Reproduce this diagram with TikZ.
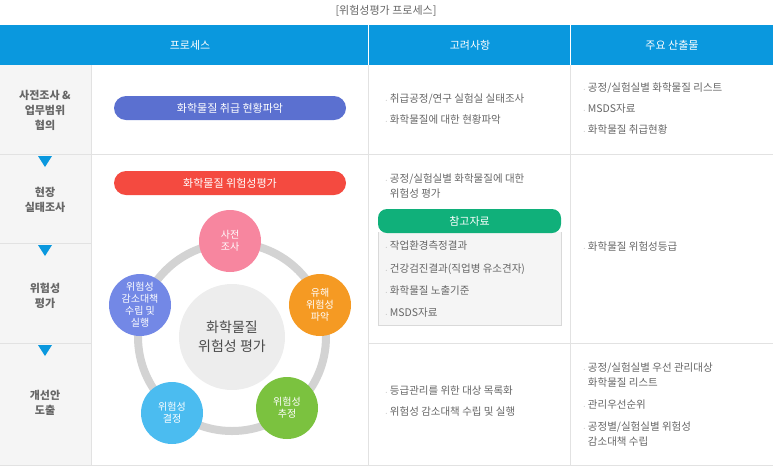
\documentclass[tikz,border=0pt]{standalone}
\usepackage{fontspec}
\setmainfont{Noto Sans CJK KR}
\usetikzlibrary{positioning}
\definecolor{hdblue}{HTML}{0A98DE}
\definecolor{txtgrey}{HTML}{666666}
\definecolor{linegrey}{HTML}{E2E2E2}
\definecolor{leftgrey}{HTML}{F5F5F5}
\definecolor{pillblue}{HTML}{5B70D0}
\definecolor{pillred}{HTML}{F44A40}
\definecolor{pillgreen}{HTML}{10B07A}
\definecolor{cpink}{HTML}{F7869F}
\definecolor{corange}{HTML}{F59A23}
\definecolor{cgreen}{HTML}{7BC23F}
\definecolor{csky}{HTML}{4BBCF0}
\definecolor{cviolet}{HTML}{7388E6}
\tikzset{
  pill/.style={rounded corners=12pt, minimum width=232pt, minimum height=24pt, text=white, font=\fontsize{11}{13}\selectfont},
  step circle/.style={circle, minimum size=62pt, inner sep=0pt, text=white, align=center, font=\fontsize{10}{12}\selectfont},
  lefttext/.style={align=center, text=txtgrey, font=\bfseries\fontsize{11}{15}\selectfont},
  bullet/.style={anchor=west, text=txtgrey, inner sep=0pt, font=\fontsize{10.5}{15}\selectfont, align=left},
}
\newcommand{\bul}{{\fontsize{7}{7}\selectfont$\cdot$}~}
\begin{document}
\begin{tikzpicture}[x=1pt, y=-1pt]
	\useasboundingbox (0,0) rectangle (773,467);
	
	% header
	\node (title) at (386,11) {\fontsize{11}{13}\selectfont\color{txtgrey}[위험성평가 프로세스]};
	\fill[hdblue] (0,25) rectangle (773,65);
	\fill[leftgrey] (0,65) rectangle (91,465);
	\node (hproc) at (190,45) [text=white, font=\fontsize{11}{13}\selectfont] {프로세스};
	\node (hcons) at (470,45) [text=white, font=\fontsize{11}{13}\selectfont] {고려사항};
	\node (hout) at (672,45) [text=white, font=\fontsize{11}{13}\selectfont] {주요 산출물};
	
	% grid
	\begin{scope}[draw=linegrey, line width=.8pt]
	\draw[white] (368,25) -- (368,65);
	\draw[white] (570,25) -- (570,65);
	\draw (91,65) -- (91,465);
	\draw (368,65) -- (368,465);
	\draw (570,65) -- (570,465);
	\draw (0,154) -- (773,154);
	\draw (0,243) -- (91,243);
	\draw (0,343) -- (91,343);
	\draw (368,343) -- (773,343);
	\draw (0,465) -- (773,465);
	\end{scope}
	
	% left column
	\node (s1) at (45,110) [lefttext] {사전조사 \&\\업무범위\\협의};
	\node (s2) at (45,200) [lefttext] {현장\\실태조사};
	\node (s3) at (45,296) [lefttext] {위험성\\평가};
	\node (s4) at (45,403) [lefttext] {개선안\\도출};
	\foreach \y in {155,244,344}
	  \fill[hdblue] (38,\y+1) -- (52,\y+1) -- (45,\y+12) -- cycle;
	
	% process column
	\node (p1) at (230,108) [pill, fill=pillblue] {화학물질 취급 현황파악};
	\node (p2) at (230,183) [pill, fill=pillred] {화학물질 위험성평가};
	\draw[linegrey!85!gray, line width=8pt] (232,337) circle (94);
	\node (core) at (232,337) [circle, fill=black!7, minimum size=106pt, align=center, text=black!70, font=\fontsize{14}{19}\selectfont] {화학물질\\위험성 평가};
	\node (c1) at (230,241) [step circle, fill=cpink] {사전\\조사};
	\node (c2) at (320,305) [step circle, fill=corange] {유해\\위험성\\파악};
	\node (c3) at (287,408) [step circle, fill=cgreen] {위험성\\추정};
	\node (c4) at (172,413) [step circle, fill=csky] {위험성\\결정};
	\node (c5) at (140,305) [step circle, fill=cviolet] {위험성\\감소대책\\수립 및\\실행};
	
	% considerations
	\node (k1) at (385,99) [bullet] {\bul 취급공정/연구 실험실 실태조사};
	\node (k2) at (385,120) [bullet] {\bul 화학물질에 대한 현황파악};
	\node (k3) at (385,186) [bullet] {\bul 공정/실험실별 화학물질에 대한\\\phantom{\bul}위험성 평가};
	\fill[black!4] (378,232) rectangle (561,325);
	\draw[black!15] (378,232) -- (378,325) -- (561,325) -- (561,232);
	\node (ref) at (469.5,221) [rounded corners=9pt, fill=pillgreen, minimum width=183pt, minimum height=24pt, text=white, font=\fontsize{11}{13}\selectfont] {참고자료};
	\node (r1) at (385,246) [bullet] {\bul 작업환경측정결과};
	\node (r2) at (385,269) [bullet] {\bul 건강검진결과(직업병 유소견자)};
	\node (r3) at (385,291) [bullet] {\bul 화학물질 노출기준};
	\node (r4) at (385,313) [bullet] {\bul MSDS자료};
	\node (k4) at (385,391) [bullet] {\bul 등급관리를 위한 대상 목록화};
	\node (k5) at (385,412) [bullet] {\bul 위험성 감소대책 수립 및 실행};
	
	% outputs
	\node (o1) at (583,88) [bullet] {\bul 공정/실험실별 화학물질 리스트};
	\node (o2) at (583,109) [bullet] {\bul MSDS자료};
	\node (o3) at (583,130) [bullet] {\bul 화학물질 취급현황};
	\node (o4) at (583,247) [bullet] {\bul 화학물질 위험성등급};
	\node (o5) at (583,375) [bullet] {\bul 공정/실험실별 우선 관리대상\\\phantom{\bul}화학물질 리스트};
	\node (o6) at (583,405) [bullet] {\bul 관리우선순위};
	\node (o7) at (583,434) [bullet] {\bul 공정별/실험실별 위험성\\\phantom{\bul}감소대책 수립};
\end{tikzpicture}
\end{document}
